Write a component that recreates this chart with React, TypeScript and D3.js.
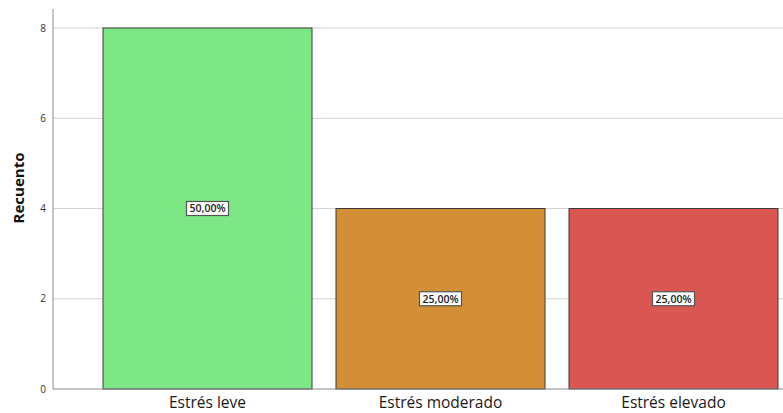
import { useEffect, useRef } from 'react';
import * as d3 from 'd3';

const categories = ['Estrés leve', 'Estrés moderado', 'Estrés elevado'];
const counts = [8, 4, 4];
const percentLabels = ['50,00%', '25,00%', '25,00%'];
const barColors = ['#7de685', '#d38f35', '#d95652'];
const yTicks = [0, 2, 4, 6, 8];

export default function App() {
  const svgRef = useRef<SVGSVGElement>(null);

  useEffect(() => {
    if (!svgRef.current) return;
    const width = 783;
    const height = 413;
    const svg = d3.select(svgRef.current);
    svg.selectAll('*').remove();

    const font = '"Open Sans", "DejaVu Sans", sans-serif';
    const axisX = 53;
    const plotRight = 783;

    const xScale = d3
      .scaleBand<string>()
      .domain(categories)
      .range([103, 778])
      .paddingInner(24 / 233)
      .paddingOuter(0);

    const yScale = d3.scaleLinear().domain([0, 8]).range([389, 28]);

    // Grid lines
    svg
      .append('g')
      .selectAll('line')
      .data(yTicks.filter((t) => t > 0))
      .join('line')
      .attr('x1', axisX)
      .attr('x2', plotRight)
      .attr('y1', (d) => yScale(d))
      .attr('y2', (d) => yScale(d))
      .attr('stroke', '#d4d4d4')
      .attr('stroke-width', 1);

    // Bars
    svg
      .append('g')
      .selectAll('rect')
      .data(counts)
      .join('rect')
      .attr('x', (_, i) => xScale(categories[i])!)
      .attr('y', (d) => yScale(d))
      .attr('width', xScale.bandwidth())
      .attr('height', (d) => yScale(0) - yScale(d))
      .attr('fill', (_, i) => barColors[i])
      .attr('stroke', '#3a3a3a')
      .attr('stroke-width', 1);

    // Axes lines
    svg
      .append('line')
      .attr('x1', axisX)
      .attr('x2', axisX)
      .attr('y1', 9)
      .attr('y2', yScale(0))
      .attr('stroke', '#8a8a8a')
      .attr('stroke-width', 1);
    svg
      .append('line')
      .attr('x1', axisX)
      .attr('x2', plotRight)
      .attr('y1', yScale(0))
      .attr('y2', yScale(0))
      .attr('stroke', '#8a8a8a')
      .attr('stroke-width', 1);

    // Y tick labels
    svg
      .append('g')
      .selectAll('text')
      .data(yTicks)
      .join('text')
      .attr('x', 46)
      .attr('y', (d) => yScale(d))
      .attr('dy', '0.35em')
      .attr('text-anchor', 'end')
      .attr('font-family', font)
      .attr('font-size', '10px')
      .attr('fill', '#333')
      .text((d) => d);

    // Y title
    svg
      .append('text')
      .attr('transform', `translate(24, 188) rotate(-90)`)
      .attr('text-anchor', 'middle')
      .attr('font-family', font)
      .attr('font-size', '15px')
      .attr('font-weight', '700')
      .attr('fill', '#111')
      .text('Recuento');

    // Category labels
    svg
      .append('g')
      .selectAll('text')
      .data(categories)
      .join('text')
      .attr('x', (d) => xScale(d)! + xScale.bandwidth() / 2)
      .attr('y', 408)
      .attr('text-anchor', 'middle')
      .attr('font-family', font)
      .attr('font-size', '15.5px')
      .attr('font-weight', '500')
      .attr('fill', '#1a1a1a')
      .text((d) => d);

    // Percentage boxes
    const labels = svg
      .append('g')
      .selectAll('g')
      .data(counts)
      .join('g')
      .attr(
        'transform',
        (d, i) => `translate(${xScale(categories[i])! + xScale.bandwidth() / 2},${yScale(d / 2)})`
      );

    labels
      .append('rect')
      .attr('x', -21)
      .attr('y', -7)
      .attr('width', 42)
      .attr('height', 14)
      .attr('fill', '#fff')
      .attr('stroke', '#555')
      .attr('stroke-width', 1.2);

    labels
      .append('text')
      .attr('text-anchor', 'middle')
      .attr('dy', '0.36em')
      .attr('font-family', font)
      .attr('font-size', '10.5px')
      .attr('font-weight', '600')
      .attr('fill', '#222')
      .text((_, i) => percentLabels[i]);

    svg.attr('width', width).attr('height', height);
  }, []);

  return (
    <svg
      ref={svgRef}
      width={783}
      height={413}
      style={{ position: 'absolute', left: 0, top: 0, background: '#fff' }}
    />
  );
}
